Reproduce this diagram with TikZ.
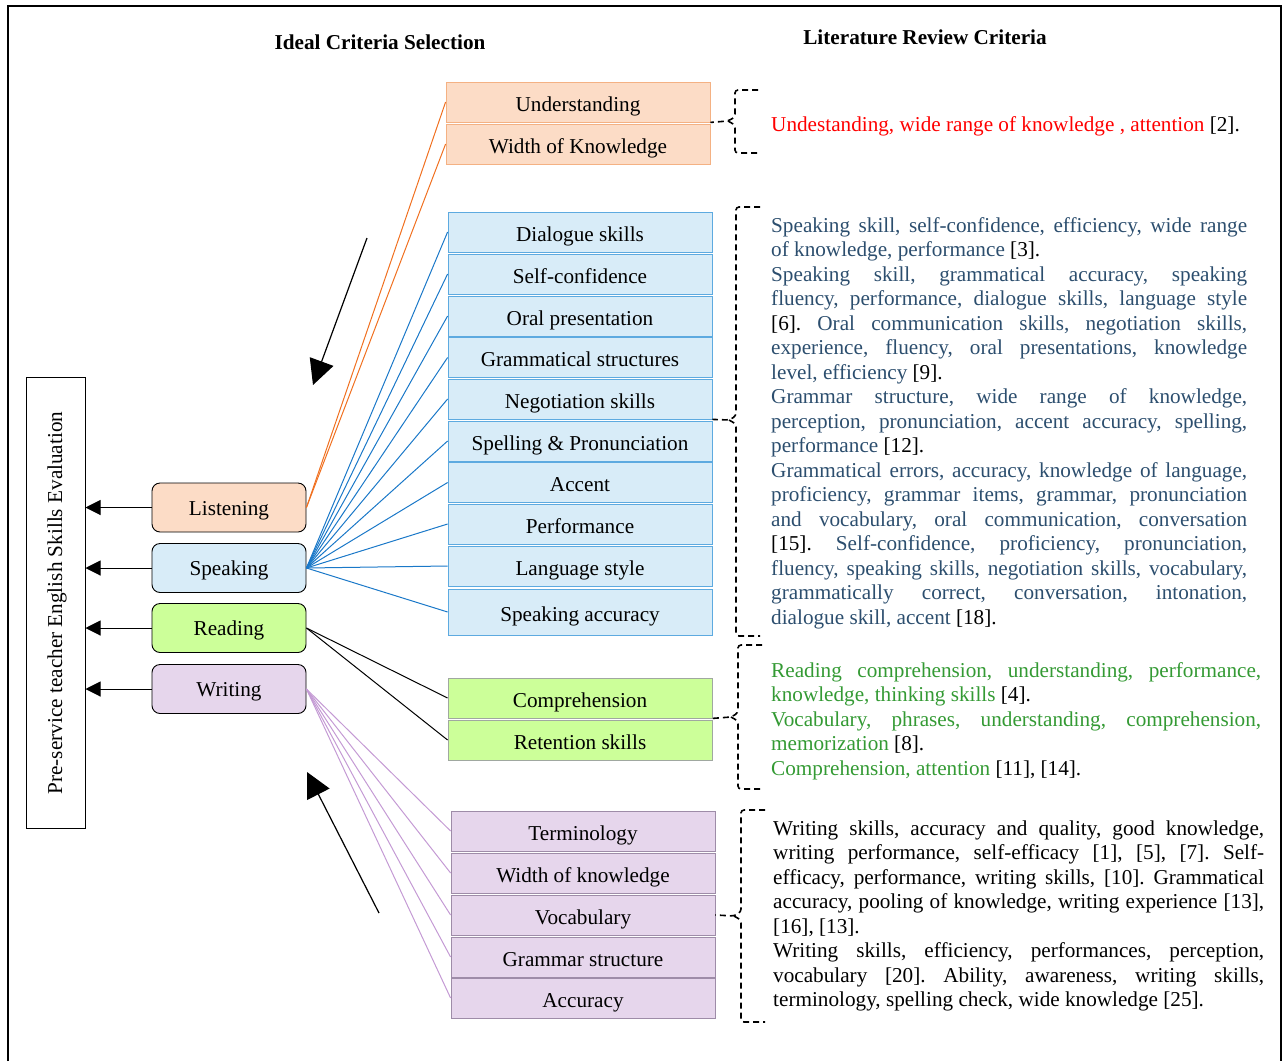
\documentclass[tikz,border=0pt]{standalone}
\usepackage{fontspec}
\setmainfont{Liberation Serif}
\usetikzlibrary{arrows.meta}
\frenchspacing
\definecolor{orfill}{HTML}{FCDCC6}
\definecolor{orborder}{HTML}{F4B183}
\definecolor{orline}{HTML}{F07020}
\definecolor{blfill}{HTML}{D8ECF8}
\definecolor{blborder}{HTML}{5DAAE0}
\definecolor{blline}{HTML}{1A78C8}
\definecolor{grfill}{HTML}{CCFF99}
\definecolor{grborder}{HTML}{A0A8A0}
\definecolor{pufill}{HTML}{E6D6EC}
\definecolor{puborder}{HTML}{9E8CA8}
\definecolor{puline}{HTML}{C49AD4}
\definecolor{bluetext}{HTML}{2C4E6E}
\definecolor{greentext}{HTML}{349A34}
\newcommand\bodyfont{\fontsize{21.2pt}{24.5pt}\selectfont\frenchspacing}
\newcommand\cit[1]{\textcolor{black}{#1}}
\newcommand\lineJ[1]{\hbox to\hsize{#1}}
\newcommand\lineL[1]{\hbox to\hsize{#1\hfil}}
\tikzset{
  skill/.style={draw=black, line width=0.9pt, rounded corners=8pt, minimum width=154pt,
    minimum height=49pt, inner sep=0pt, font=\bodyfont, text height=15pt, text depth=0pt},
  item/.style={line width=0.8pt, minimum width=264pt, minimum height=40pt, inner sep=0pt,
    font=\bodyfont, text height=18pt, text depth=0pt},
  oritem/.style={item, fill=orfill, draw=orborder},
  blitem/.style={item, fill=blfill, draw=blborder},
  gritem/.style={item, fill=grfill, draw=grborder},
  puitem/.style={item, fill=pufill, draw=puborder},
  conn/.style={line width=1pt},
  tobig/.style={line width=1pt, -{Triangle[length=15pt,width=15pt]}},
  bigarrow/.style={line width=1.2pt, -{Triangle[length=25pt,width=25pt]}},
  brk/.style={line width=1.6pt, dash pattern=on 6pt off 4pt, rounded corners=3pt},
  textblock/.style={anchor=base west, inner sep=0pt, font=\bodyfont},
}
\begin{document}
\begin{tikzpicture}[x=1pt,y=-1pt]
\useasboundingbox (0,0) rectangle (1286,1061);
\draw[line width=1.5pt] (8,1061) -- (8,6) -- (1281,6) -- (1281,1061);

% titles
\node[font=\bodyfont\bfseries, anchor=base, inner sep=0pt] (t1) at (380,49) {Ideal Criteria Selection};
\node[font=\bodyfont\bfseries, anchor=base, inner sep=0pt] (t2) at (925,44) {Literature Review Criteria};

% big box
\node[draw, line width=1pt, minimum width=59pt, minimum height=451pt, inner sep=0pt] (big) at (55.5,602.5) {};
\node[rotate=90, font=\bodyfont, inner sep=0pt] (bigl) at (57,603) {Pre-service teacher English Skills Evaluation};

% skills
\node[skill, fill=orfill] (lis) at (229,507.5) {Listening};
\node[skill, fill=blfill] (spk) at (229,568) {Speaking};
\node[skill, fill=grfill] (rea) at (229,628) {Reading};
\node[skill, fill=pufill] (wri) at (229,689) {Writing};

\foreach \s in {lis,spk,rea,wri}{
  \draw[tobig] (\s.west) -- (\s.west -| big.east);
}

% orange items
\node[oritem] (und) at (578,102) {Understanding};
\node[oritem] (wok) at (578,144) {Width of Knowledge};

% blue items
\node[blitem] (dia) at (580,232) {Dialogue skills};
\node[blitem] (sel) at (580,274) {Self-confidence};
\node[blitem] (ora) at (580,316) {Oral presentation};
\node[blitem] (gra) at (580,357.5) {Grammatical structures};
\node[blitem] (neg) at (580,399) {Negotiation skills};
\node[blitem] (spe) at (580,441) {Spelling \& Pronunciation};
\node[blitem] (acc) at (580,482.5) {Accent};
\node[blitem] (per) at (580,524) {Performance};
\node[blitem] (lan) at (580,566) {Language style};
\node[blitem, minimum height=46pt] (sac) at (580,612) {Speaking accuracy};

% green items
\node[gritem] (com) at (580,698) {Comprehension};
\node[gritem] (ret) at (580,740) {Retention skills};

% purple items
\node[puitem] (ter) at (583,831) {Terminology};
\node[puitem] (wdk) at (583,873) {Width of knowledge};
\node[puitem] (voc) at (583,915) {Vocabulary};
\node[puitem] (grs) at (583,957) {Grammar structure};
\node[puitem] (acy) at (583,998) {Accuracy};

% connectors
\foreach \t in {und,wok}{ \draw[conn, orline] (lis.east) -- (\t.west); }
\foreach \t in {dia,sel,ora,gra,neg,spe,acc,per,lan,sac}{ \draw[conn, blline] (spk.east) -- (\t.west); }
\foreach \t in {com,ret}{ \draw[conn, black] (rea.east) -- (\t.west); }
\foreach \t in {ter,wdk,voc,grs,acy}{ \draw[conn, puline] (wri.east) -- (\t.west); }

% big arrows
\coordinate (a1s) at (367,238);
\coordinate (a1e) at (313,385);
\draw[bigarrow] (a1s) -- (a1e);
\coordinate (a2s) at (379,913);
\coordinate (a2e) at (307,772);
\draw[bigarrow] (a2s) -- (a2e);

% brackets
\draw[brk] (758,90) -- (735,90) -- (735,117) -- (728,121) -- (und.south east);
\draw[brk] (728,121) -- (735,125) -- (735,153) -- (758,153);

\draw[brk] (760,207) -- (736,207) -- (736,416) -- (729,420) -- (neg.south east);
\draw[brk] (729,420) -- (736,424) -- (736,636) -- (760,636);

\draw[brk] (762,645) -- (738,645) -- (738,713) -- (731,717) -- (com.south east);
\draw[brk] (731,717) -- (738,721) -- (738,789) -- (762,789);

\draw[brk] (765,810) -- (741,810) -- (741,912) -- (734,916) -- (voc.east);
\draw[brk] (734,916) -- (741,920) -- (741,1022) -- (765,1022);

% texts
\node[textblock, text=red] (rt) at (771,131) {Undestanding, wide range of knowledge , attention \cit{[2].}};

\node[textblock, text=bluetext] (bt) at (771,232) {\vtop{\hsize=476pt
\lineJ{Speaking skill, self-confidence, efficiency, wide range}
\lineL{of knowledge, performance \cit{[3].}}
\lineJ{Speaking skill, grammatical accuracy, speaking}
\lineJ{fluency, performance, dialogue skills, language style}
\lineJ{\cit{[6].} Oral communication skills, negotiation skills,}
\lineJ{experience, fluency, oral presentations, knowledge}
\lineL{level, efficiency \cit{[9].}}
\lineJ{Grammar structure, wide range of knowledge,}
\lineJ{perception, pronunciation, accent accuracy, spelling,}
\lineL{performance \cit{[12].}}
\lineJ{Grammatical errors, accuracy, knowledge of language,}
\lineJ{proficiency, grammar items, grammar, pronunciation}
\lineJ{and vocabulary, oral communication, conversation}
\lineJ{\cit{[15].} Self-confidence, proficiency, pronunciation,}
\lineJ{fluency, speaking skills, negotiation skills, vocabulary,}
\lineJ{grammatically correct, conversation, intonation,}
\lineL{dialogue skill, accent \cit{[18].}}}};

\node[textblock, text=greentext] (gt) at (771,677) {\vtop{\hsize=490pt
\lineJ{Reading comprehension, understanding, performance,}
\lineL{knowledge, thinking skills \cit{[4].}}
\lineJ{Vocabulary, phrases, understanding, comprehension,}
\lineL{memorization \cit{[8].}}
\lineL{Comprehension, attention \cit{[11], [14].}}}};

\node[textblock, text=black] (wt) at (773,835) {\vtop{\hsize=491pt
\lineJ{Writing skills, accuracy and quality, good knowledge,}
\lineJ{writing performance, self-efficacy [1], [5], [7]. Self-}
\lineJ{efficacy, performance, writing skills, [10]. Grammatical}
\lineJ{accuracy, pooling of knowledge, writing experience [13],}
\lineL{[16], [13].}
\lineJ{Writing skills, efficiency, performances, perception,}
\lineJ{vocabulary [20]. Ability, awareness, writing skills,}
\lineL{terminology, spelling check, wide knowledge [25].}}};
\end{tikzpicture}
\end{document}
